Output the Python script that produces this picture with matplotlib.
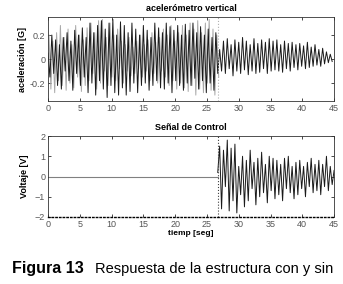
import numpy as np
import matplotlib
matplotlib.use("Agg")
import matplotlib.pyplot as plt

# ---------------------------------------------------------------------------
# Values (successive extremes of each trace)
# ---------------------------------------------------------------------------
acc_dt = 0.3          # spacing of the extremes [s]
acc_black = [
    0.05, -0.15, 0.20, -0.12, 0.16, -0.22, 0.12, -0.25, 0.18, -0.10,
    0.22, -0.18, 0.15, -0.26, 0.24, -0.12, 0.20, -0.22, 0.26, -0.15,
    0.18, -0.28, 0.30, -0.20, 0.22, -0.30, 0.28, -0.18, 0.32, -0.25,
    0.25, -0.32, 0.30, -0.22, 0.33, -0.28, 0.20, -0.30, 0.31, -0.24,
    0.28, -0.30, 0.22, -0.27, 0.30, -0.20, 0.25, -0.28, 0.20, -0.22,
    0.28, -0.20, 0.24, -0.26, 0.18, -0.22, 0.30, -0.18, 0.26, -0.24,
    0.22, -0.25, 0.30, -0.20, 0.27, -0.28, 0.24, -0.18, 0.28, -0.22,
    0.20, -0.26, 0.29, -0.20, 0.24, -0.22, 0.30, -0.16, 0.22, -0.25,
    0.27, -0.18, 0.20, -0.28, 0.25, -0.20, 0.18, -0.26, 0.22, -0.12,
    0.08, -0.10, 0.15, -0.12, 0.17, -0.08, 0.12, -0.14, 0.16, -0.10,
    0.14, -0.12, 0.18, -0.09, 0.15, -0.13, 0.12, -0.10, 0.17, -0.12,
    0.13, -0.11, 0.16, -0.08, 0.14, -0.12, 0.17, -0.10, 0.15, -0.09,
    0.16, -0.10, 0.12, -0.11, 0.15, -0.08, 0.13, -0.10, 0.14, -0.07,
    0.12, -0.09, 0.13, -0.06, 0.11, -0.08, 0.14, -0.07, 0.10, -0.06,
    0.12, -0.05, 0.08, -0.06, 0.09, -0.04, 0.06, -0.03, 0.04, -0.02,
]
acc_gray = [
    0.20, -0.25, 0.15, -0.28, 0.22, -0.18, 0.28, -0.22, 0.18, -0.26,
    0.25, -0.20, 0.12, -0.24, 0.28, -0.15, 0.20, -0.27, 0.16, -0.22,
    0.26, -0.18, 0.30, -0.12, 0.22, -0.25, 0.32, -0.20, 0.33, -0.10,
    0.18, -0.22, 0.30, -0.15, 0.20, -0.18, 0.25, -0.08, 0.15, -0.20,
    0.12, -0.10, 0.18, -0.14, 0.10, -0.12, 0.15, -0.08, 0.20, -0.15,
    0.12, -0.10, 0.16, -0.18, 0.22, -0.12, 0.14, -0.20, 0.18, -0.10,
    0.25, -0.15, 0.20, -0.22, 0.28, -0.18, 0.15, -0.25, 0.22, -0.20,
    0.28, -0.24, 0.20, -0.27, 0.30, -0.22, 0.25, -0.30, 0.32, -0.25,
    0.22, -0.28, 0.30, -0.20, 0.33, -0.26, 0.25, -0.30, 0.20, -0.15,
]
t_switch = 26.7       # control switched on [s]
ctrl_volts = [
    0.2, 1.5, -1.6, 1.3, -0.5, 1.8, -1.7, 1.4, -1.2, 1.6,
    -1.8, 0.5, -0.9, 1.0, -1.5, 0.8, -1.2, 1.3, -0.6, 0.7,
    -1.4, 0.9, -1.0, 1.2, -0.8, 0.6, -1.3, 1.0, -0.7, 0.9,
    -1.1, 0.8, -0.9, 0.6, -1.2, 0.9, -0.6, 1.0, -0.8, 0.5,
    -1.1, 0.7, -0.9, 0.8, -0.6, 0.5, -1.0, 0.7, -0.5, 0.9,
    -0.8, 0.6, -0.7, 0.8, -0.9, 0.6, -0.5, 1.0, -0.7, 0.5,
    -0.4, 0.3,
]
x_ticks = [0, 5, 10, 15, 20, 25, 30, 35, 40, 45]

t_black = np.arange(len(acc_black)) * acc_dt
t_gray = 0.15 + np.arange(len(acc_gray)) * acc_dt
t_ctrl = t_switch + np.arange(len(ctrl_volts)) * acc_dt

plt.rcParams["font.family"] = ["Liberation Sans", "DejaVu Sans"]

fig = plt.figure(figsize=(3.43, 2.84), dpi=100)
ax1 = fig.add_axes([0.14, 0.644, 0.834, 0.296])
ax2 = fig.add_axes([0.14, 0.236, 0.834, 0.285])


def style(ax):
    ax.tick_params(direction="in", top=True, right=True, length=2.5,
                   width=0.5, labelsize=6.5, labelcolor="#555555", pad=2)
    for s in ax.spines.values():
        s.set_linewidth(0.6)
        s.set_edgecolor("#333333")
    ax.set_xlim(0, 45)
    ax.set_xticks(x_ticks)


# top: vertical accelerometer
ax1.plot(t_gray, acc_gray, color="#a8a8a8", lw=0.7)
ax1.plot(t_black, acc_black, color="#1a1a1a", lw=0.7)
ax1.axvline(t_switch, color="#b0b0b0", lw=0.8, ls=":")
ax1.set_ylim(-0.35, 0.35)
ax1.set_yticks([-0.2, 0, 0.2])
ax1.set_yticklabels(["-0.2", "0", "0.2"])
style(ax1)
ax1.set_title("acelerómetro vertical", fontsize=6.5, fontweight="bold", pad=4)
ax1.set_ylabel("aceleración [G]", fontsize=6.5, fontweight="bold", labelpad=2)

# bottom: control signal
ax2.plot([0, t_switch], [0, 0], color="#808080", lw=0.8)
ax2.plot(t_ctrl, ctrl_volts, color="#1a1a1a", lw=0.7)
ax2.axvline(t_switch, color="#404040", lw=0.8, ls=":")
ax2.set_ylim(-2, 2)
ax2.set_yticks([-2, -1, 0, 1, 2])
style(ax2)
ax2.spines["bottom"].set_linestyle(":")
ax2.spines["bottom"].set_linewidth(1.0)
ax2.spines["bottom"].set_edgecolor("black")
ax2.set_title("Señal de Control", fontsize=6.5, fontweight="bold", pad=4)
ax2.set_ylabel("Voltaje [V]", fontsize=6.5, fontweight="bold", labelpad=4)
ax2.set_xlabel("tiemp [seg]", fontsize=6, fontweight="bold", labelpad=1)

fig.text(0.035, 0.053, "Figura 13", fontsize=11.5, fontweight="bold",
         va="center", ha="left")
fig.text(0.277, 0.053, "Respuesta de la estructura con y sin", fontsize=10.5,
         va="center", ha="left")

fig.savefig("out.png", dpi=100)
